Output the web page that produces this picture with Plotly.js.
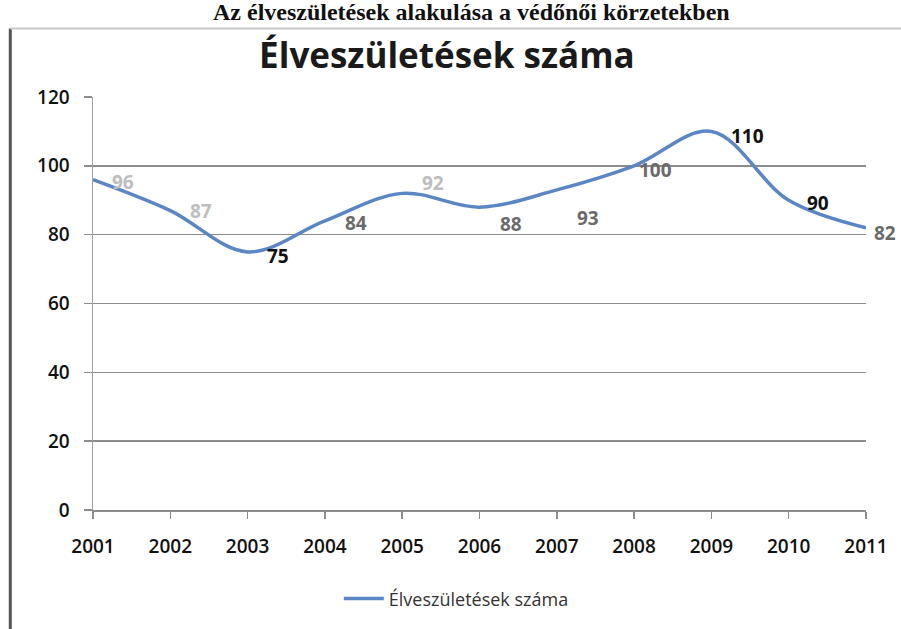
<!DOCTYPE html>
<html>
<head>
<meta charset="utf-8">
<script src="https://cdn.plot.ly/plotly-3.0.1.min.js"></script>
<style>html,body{margin:0;padding:0;background:#fff;overflow:hidden}#chart{width:901px;height:629px}</style>
</head>
<body>
<div id="chart"></div>
<script>
// Data
const years = [2001, 2002, 2003, 2004, 2005, 2006, 2007, 2008, 2009, 2010, 2011];
const births = [96, 87, 75, 84, 92, 88, 93, 100, 110, 90, 82];
const seriesName = "Élveszületések száma";
const chartTitle = "Élveszületések száma";
const pageHeading = "Az élveszületések alakulása a védőnői körzetekben";
const yTicks = [0, 20, 40, 60, 80, 100, 120];

// Label styles (per point)
const labelColors = ["#bdbdbd", "#bdbdbd", "#111111", "#6a6a6a", "#bdbdbd", "#6a6a6a", "#6a6a6a", "#6a6a6a", "#111111", "#111111", "#6a6a6a"];
const labelDx = [30, 31, 30, 31, 31, 31, 31, 21, 36, 29, 19];
const labelDy = [-2, 0, -4, -2, 10, -17, -28, -4, -5, -3, -5];

const annotations = years.map((yr, i) => ({
  x: yr, y: births[i], xref: 'x', yref: 'y',
  text: String(births[i]), showarrow: false,
  xshift: labelDx[i], yshift: labelDy[i],
  font: {family: 'Open Sans, Arial, sans-serif', size: 19, color: labelColors[i], weight: 700}
}));

annotations.push({
  xref: 'paper', yref: 'paper', x: 0.49, y: 1.205, yanchor: 'middle',
  text: pageHeading, showarrow: false,
  font: {family: 'Liberation Serif, Times New Roman, serif', size: 24, color: '#111', weight: 700}
});

const trace = {
  x: years, y: births, type: 'scatter', mode: 'lines', name: seriesName,
  line: {color: '#5a86c6', width: 3.5, shape: 'spline', smoothing: 1},
  hoverinfo: 'x+y'
};

const layout = {
  width: 901, height: 629,
  margin: {l: 93, r: 35, t: 97, b: 117},
  paper_bgcolor: '#ffffff', plot_bgcolor: '#ffffff',
  title: {text: chartTitle, x: 0.496, xanchor: 'center', y: 0.912, yanchor: 'middle',
    font: {family: 'Open Sans, Arial, sans-serif', size: 35, color: '#1a1a1a', weight: 700}},
  xaxis: {
    range: [2001, 2011], tickvals: years, ticktext: years.map(String),
    showgrid: false, zeroline: false, showline: true, linecolor: '#8c8c8c', linewidth: 1.5,
    ticks: 'outside', ticklen: 7, tickcolor: '#8c8c8c', tickwidth: 1.5,
    tickfont: {family: 'Open Sans, Arial, sans-serif', size: 19, color: '#111', weight: 600},
    ticklabelstandoff: 12
  },
  yaxis: {
    range: [0, 120], tickvals: yTicks,
    showgrid: true, gridcolor: '#8c8c8c', gridwidth: 1.5, zeroline: false,
    showline: true, linecolor: '#a0a0a0', linewidth: 1.5,
    ticks: 'outside', ticklen: 8, tickcolor: '#8c8c8c', tickwidth: 1.5,
    tickfont: {family: 'Open Sans, Arial, sans-serif', size: 19, color: '#111', weight: 600},
    ticklabelstandoff: 10
  },
  showlegend: true,
  legend: {orientation: 'h', x: 0.47, xanchor: 'center', y: -0.215, yanchor: 'middle',
    font: {family: 'Open Sans, Arial, sans-serif', size: 18, color: '#333'}, itemwidth: 40},
  annotations: annotations,
  shapes: [
    {type: 'line', xref: 'paper', yref: 'paper', x0: -0.107, x1: -0.107, y0: 1.166, y1: -0.3,
      line: {color: '#555', width: 3}},
    {type: 'line', xref: 'paper', yref: 'paper', x0: -0.107, x1: 1.1, y0: 1.166, y1: 1.166,
      line: {color: '#c8c8c8', width: 2}}
  ]
};

Plotly.newPlot('chart', [trace], layout, {displayModeBar: false, staticPlot: true});
</script>
</body>
</html>
